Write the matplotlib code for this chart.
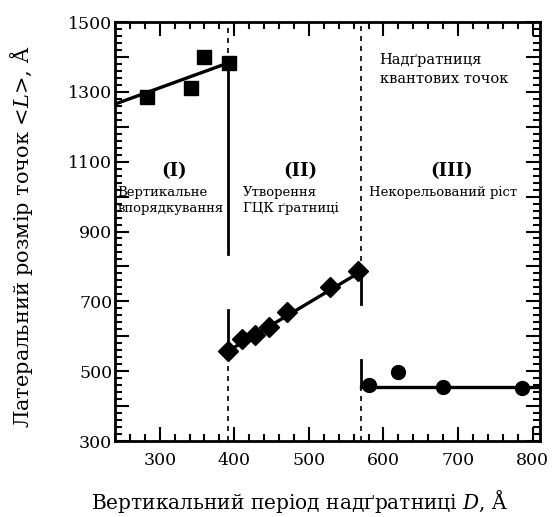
import matplotlib
matplotlib.use("Agg")
import matplotlib.pyplot as plt
from matplotlib.ticker import MultipleLocator, FuncFormatter

plt.rcParams["font.family"] = ["DejaVu Serif"]
plt.rcParams["mathtext.fontset"] = "dejavuserif"

# Область I: вертикальне впорядкування (квадрати)
d_sq = [283, 342, 359, 393]
l_sq = [1286, 1310, 1399, 1384]
fit1_x = [240, 392]
fit1_y = [1265, 1383]

# Область II: утворення ГЦК ґратниці (ромби)
d_dia = [391, 410, 428, 447, 470, 529, 566]
l_dia = [557, 593, 605, 626, 669, 740, 786]
fit2_x = [391, 568]
fit2_y = [557, 783]

# Область III: некорельований ріст (кружки)
d_circ = [580, 619, 680, 786]
l_circ = [459, 498, 454, 452]
fit3_x = [570, 810]
fit3_y = [454, 454]

# межі областей
b1 = 391
b2 = 570

fig = plt.figure(figsize=(5.57, 5.17), dpi=100)
ax = fig.add_axes([0.2065, 0.147, 0.763, 0.8104])

lw = 2.4
ax.plot(fit1_x, fit1_y, color="black", lw=lw)
ax.plot(fit2_x, fit2_y, color="black", lw=lw)
ax.plot(fit3_x, fit3_y, color="black", lw=lw)

# вертикальні межі: суцільні відрізки та пунктир
ax.plot([b1, b1], [fit1_y[1], 835], color="black", lw=2)
ax.plot([b1, b1], [l_dia[0], 675], color="black", lw=2)
ax.plot([b1, b1], [fit1_y[1], 1500], color="black", lw=1.2, ls=(0, (3, 3)))
ax.plot([b1, b1], [300, l_dia[0]], color="black", lw=1.2, ls=(0, (3, 3)))
ax.plot([b2, b2], [l_dia[-1], 691], color="black", lw=2)
ax.plot([b2, b2], [fit3_y[0], 531], color="black", lw=2)
ax.plot([b2, b2], [l_dia[-1], 1500], color="black", lw=1.2, ls=(0, (3, 3)))
ax.plot([b2, b2], [300, fit3_y[0]], color="black", lw=1.2, ls=(0, (3, 3)))

ax.plot(d_sq, l_sq, "s", color="black", ms=10, zorder=5)
ax.plot(d_dia, l_dia, "D", color="black", ms=10, zorder=5)
ax.plot(d_circ, l_circ, "o", color="black", ms=10, zorder=5)

ax.set_xlim(240, 810)
ax.set_ylim(300, 1500)

ax.xaxis.set_major_locator(MultipleLocator(100))
ax.xaxis.set_minor_locator(MultipleLocator(20))
ax.yaxis.set_major_locator(MultipleLocator(100))
ax.yaxis.set_minor_locator(MultipleLocator(20))
ax.yaxis.set_major_formatter(FuncFormatter(lambda v, p: f"{v:.0f}" if int(round(v)) % 200 == 100 else ""))

ax.tick_params(which="both", direction="in", top=True, right=True, width=1.5, colors="black")
ax.tick_params(which="major", length=10)
ax.tick_params(which="minor", length=5)
ax.tick_params(axis="x", which="major", pad=8, labelsize=12.5)
ax.tick_params(axis="y", which="major", pad=2, labelsize=12.5)
for s in ax.spines.values():
    s.set_linewidth(2)

ax.set_xlabel("Вертикальний період надґратниці $D$, Å", fontsize=14.5, va="center")
ax.xaxis.set_label_coords(0.435, -0.145)
ax.set_ylabel("Латеральний розмір точок <$L$>, Å", fontsize=15, va="center")
ax.yaxis.set_label_coords(-0.219, 0.487)

ax.text(319, 1073, "(I)", fontsize=13, fontweight="bold", ha="center", va="center")
ax.text(489, 1073, "(II)", fontsize=13, fontweight="bold", ha="center", va="center")
ax.text(691, 1073, "(III)", fontsize=13, fontweight="bold", ha="center", va="center")

ax.text(243, 989, "Вертикальне\nвпорядкування", fontsize=9.5, ha="left", va="center", linespacing=1.3)
ax.text(411, 989, "Утворення\nГЦК ґратниці", fontsize=9.5, ha="left", va="center", linespacing=1.3)
ax.text(581, 1013, "Некорельований ріст", fontsize=9.5, ha="left", va="center")
ax.text(595, 1364, "Надґратниця\nквантових точок", fontsize=10.5, ha="left", va="center", linespacing=1.4)

fig.savefig("out.png", dpi=100)
